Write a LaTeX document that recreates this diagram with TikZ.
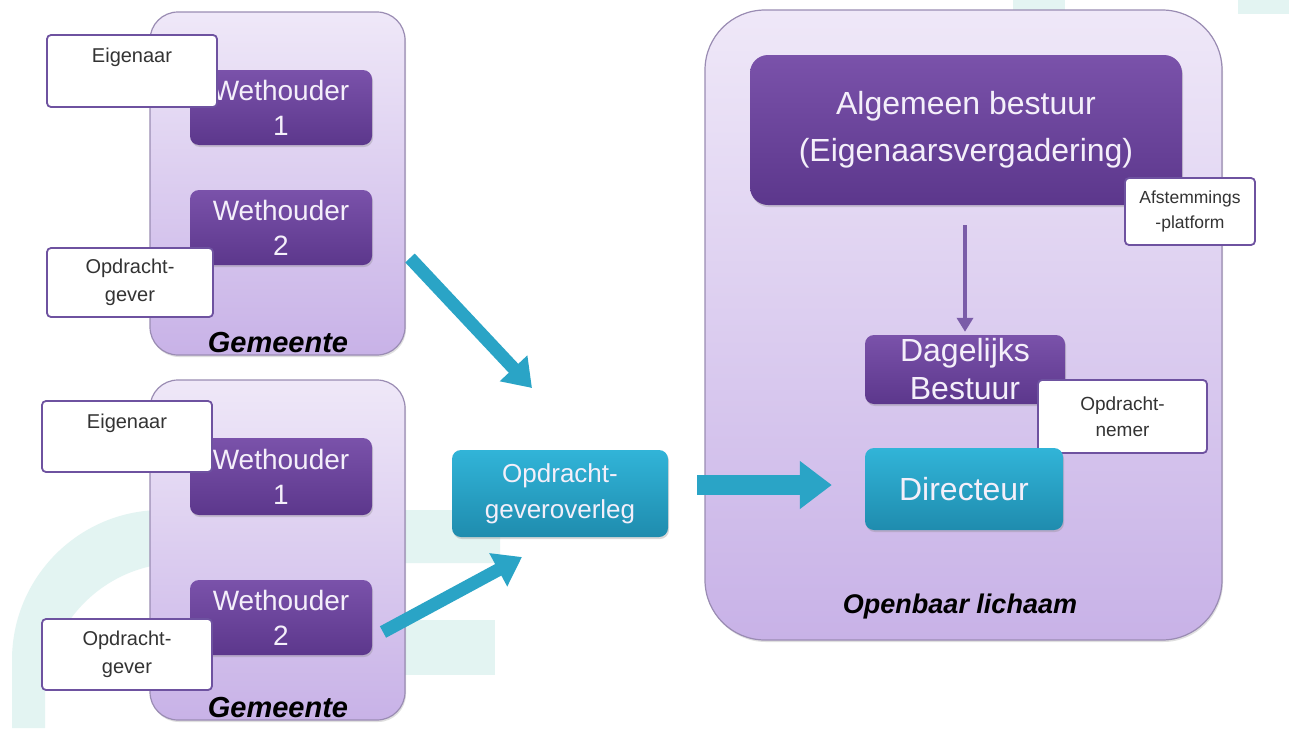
\documentclass[tikz,border=0pt]{standalone}
\usepackage{fontspec}
\setmainfont{Liberation Sans}
\usetikzlibrary{arrows.meta,shadows}
\definecolor{bgteal}{HTML}{E3F4F2}
\definecolor{contTop}{HTML}{EFE8F8}
\definecolor{contBot}{HTML}{C8B2E7}
\definecolor{contLine}{HTML}{9A8CB3}
\definecolor{purTop}{HTML}{7A52AA}
\definecolor{purBot}{HTML}{5C378C}
\definecolor{tealTop}{HTML}{31B4D8}
\definecolor{tealBot}{HTML}{1F8CAE}
\definecolor{arrTeal}{HTML}{2AA4C6}
\definecolor{lblLine}{HTML}{6E52A0}
\definecolor{arrPur}{HTML}{7A5CA8}
\definecolor{boxText}{HTML}{F4EFFA}
\begin{document}
\begin{tikzpicture}[x=1pt,y=-1pt,
  container/.style={draw=contLine, line width=1.2pt, rounded corners=28pt,
    top color=contTop, bottom color=contBot, inner sep=0pt,
    drop shadow={shadow xshift=1pt, shadow yshift=-2pt, opacity=0.25}},
  purbox/.style={rounded corners=9pt, top color=purTop, bottom color=purBot,
    text=boxText, align=center, inner sep=0pt,
    drop shadow={shadow xshift=1pt, shadow yshift=-2pt, opacity=0.3}},
  tealbox/.style={rounded corners=9pt, top color=tealTop, bottom color=tealBot,
    text=boxText, align=center, inner sep=0pt,
    drop shadow={shadow xshift=1pt, shadow yshift=-2pt, opacity=0.3}},
  lbl/.style={draw=lblLine, line width=1.8pt, fill=white, rounded corners=4pt,
    align=center, text=black!80, inner sep=0pt},
  caption/.style={font=\fontsize{29}{30}\selectfont\bfseries\itshape, text=black, inner sep=0pt},
  tarrow/.style={draw=arrTeal, line width=13pt, -{Triangle[length=27pt,width=36pt]}},
]
\useasboundingbox (0,0) rectangle (1289,728);
\fill[white] (0,0) rectangle (1289,728);

% faint background logo
\fill[bgteal, even odd rule]
  (12,728) -- (12,660) arc[start angle=180, end angle=270, radius=150] -- (500,510) -- (500,563)
  -- (180,563) arc[start angle=270, end angle=180, radius=135] -- (45,728) -- cycle;
\fill[bgteal] (403,620) rectangle (495,675);
\fill[bgteal] (1013,0) rectangle (1065,10);
\fill[bgteal] (1238,0) rectangle (1289,14);

% Gemeente 1
\node[container, minimum width=255pt, minimum height=343pt] (gem1) at (277.5,183.5) {};
\node[purbox, minimum width=182pt, minimum height=75pt, font=\fontsize{28}{35}\selectfont] (w1a) at (281,107.5) {Wethouder\\1};
\node[purbox, minimum width=182pt, minimum height=75pt, font=\fontsize{28}{35}\selectfont] (w2a) at (281,227.5) {Wethouder\\2};
\node[lbl, minimum width=170pt, minimum height=72pt, font=\fontsize{20}{27}\selectfont] (eiga) at (132,71) {Eigenaar\\\phantom{g}};
\node[lbl, minimum width=166pt, minimum height=69pt, font=\fontsize{20}{28}\selectfont] (opda) at (130,282.5) {Opdracht-\\gever};
\node[caption] (gem1lbl) at (278,343) {Gemeente};

% Gemeente 2
\node[container, minimum width=255pt, minimum height=340pt] (gem2) at (277.5,550) {};
\node[purbox, minimum width=182pt, minimum height=77pt, font=\fontsize{28}{35}\selectfont] (w1b) at (281,476.5) {Wethouder\\1};
\node[purbox, minimum width=182pt, minimum height=75pt, font=\fontsize{28}{35}\selectfont] (w2b) at (281,617.5) {Wethouder\\2};
\node[lbl, minimum width=170pt, minimum height=71pt, font=\fontsize{20}{27}\selectfont] (eigb) at (127,436.5) {Eigenaar\\\phantom{g}};
\node[lbl, minimum width=170pt, minimum height=71pt, font=\fontsize{20}{28}\selectfont] (opdb) at (127,654.5) {Opdracht-\\gever};
\node[caption] (gem2lbl) at (278,708) {Gemeente};

% Opdrachtgeveroverleg
\node[tealbox, minimum width=216pt, minimum height=87pt, font=\fontsize{26}{36}\selectfont] (overleg) at (560,493.5) {Opdracht-\\geveroverleg};

% Openbaar lichaam
\node[container, rounded corners=60pt, minimum width=517pt, minimum height=630pt] (ob) at (963.5,325) {};
\node[purbox, rounded corners=18pt, minimum width=432pt, minimum height=150pt, font=\fontsize{32}{47}\selectfont] (ab) at (966,130) {Algemeen bestuur\\(Eigenaarsvergadering)};
\node[lbl, minimum width=130pt, minimum height=67pt, font=\fontsize{17.5}{25}\selectfont] (afst) at (1190,211.5) {Afstemmings\\-platform};
\node[purbox, minimum width=200pt, minimum height=69pt, font=\fontsize{32}{38}\selectfont] (db) at (965,369.5) {Dagelijks\\Bestuur};
\node[lbl, minimum width=169pt, minimum height=73pt, font=\fontsize{19}{26}\selectfont] (nemer) at (1122.5,416.5) {Opdracht-\\nemer};
\node[tealbox, minimum width=198pt, minimum height=82pt, font=\fontsize{32}{38}\selectfont] (dir) at (964,489) {Directeur};
\node[caption, font=\fontsize{27}{30}\selectfont\bfseries\itshape] (oblbl) at (960,607) {Openbaar lichaam};

% connectors
\coordinate (a1s) at (410,258);
\coordinate (a1e) at (532,388);
\coordinate (a2s) at (383,632);
\coordinate (a2e) at (522,557);
\coordinate (a3s) at (697,485);
\draw[tarrow] (a1s) -- (a1e);
\draw[tarrow] (a2s) -- (a2e);
\draw[draw=arrTeal, line width=20pt, -{Triangle[length=32pt,width=46pt]}]
  (a3s) -- ([xshift=-33pt]dir.west |- a3s);
\draw[draw=arrPur, line width=3.5pt, -{Triangle[length=14pt,width=16pt]}]
  ([yshift=-20pt]ab.south -| db.north) -- ([yshift=3pt]db.north);
\end{tikzpicture}
\end{document}
